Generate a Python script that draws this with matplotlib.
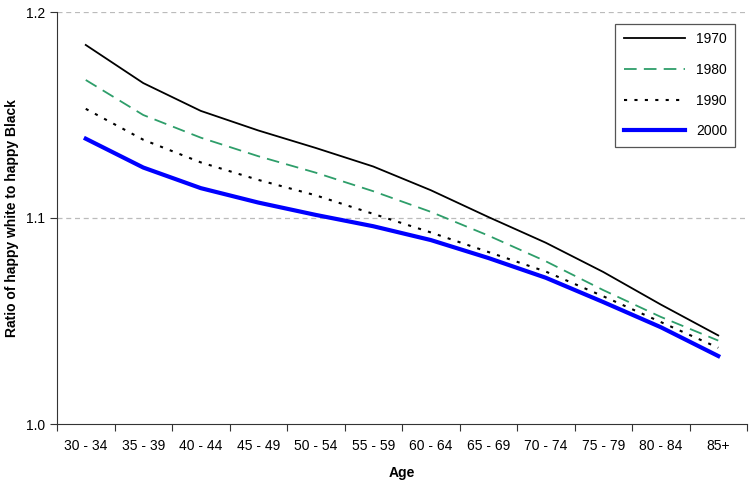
import numpy as np
import matplotlib.pyplot as plt

plt.rcParams['font.family'] = ['Liberation Sans', 'DejaVu Sans']

ages = ['30 - 34', '35 - 39', '40 - 44', '45 - 49', '50 - 54', '55 - 59',
        '60 - 64', '65 - 69', '70 - 74', '75 - 79', '80 - 84', '85+']
r1970 = [1.184, 1.1655, 1.152, 1.1425, 1.134, 1.125, 1.1135, 1.1005, 1.088, 1.0738, 1.058, 1.043]
r1980 = [1.167, 1.150, 1.139, 1.130, 1.122, 1.113, 1.103, 1.0915, 1.079, 1.065, 1.052, 1.0405]
r1990 = [1.153, 1.138, 1.127, 1.1185, 1.111, 1.102, 1.093, 1.0835, 1.074, 1.062, 1.0495, 1.037]
r2000 = [1.1385, 1.1245, 1.1145, 1.1075, 1.1015, 1.096, 1.0893, 1.0806, 1.071, 1.0592, 1.047, 1.033]

fig = plt.figure(figsize=(7.49, 4.82), dpi=100)
ax = fig.add_axes([57 / 749, 1 - 424 / 482, 690 / 749, 412 / 482])

x = np.arange(len(ages))
ax.plot(x, r1970, color='black', lw=1.3, label='1970')
ax.plot(x, r1980, color='#2e9e6a', lw=1.3, dashes=(7, 4), label='1980')
ax.plot(x, r1990, color='black', lw=1.5, dashes=(1.5, 3.5), label='1990')
ax.plot(x, r2000, color='blue', lw=3, label='2000')

ax.set_xlim(-0.5, len(ages) - 0.5)
ax.set_ylim(1.0, 1.2)
ax.set_yticks([1.0, 1.1, 1.2])
ax.set_yticklabels(['1.0', '1.1', '1.2'], fontsize=10)
for yv in [1.1, 1.2]:
    ax.axhline(yv, color='#bbbbbb', lw=0.9, dashes=(4, 3), zorder=0)

ax.set_xticks(np.arange(len(ages) + 1) - 0.5)
ax.set_xticklabels([])
ax.set_xticks(x, minor=True)
ax.set_xticklabels(ages, minor=True, fontsize=10)
ax.tick_params(axis='x', which='minor', length=0, pad=11)
ax.tick_params(axis='x', which='major', length=5, color='#333333')
ax.tick_params(axis='y', length=5, color='#333333')

for s in ['top', 'right']:
    ax.spines[s].set_visible(False)
for s in ['left', 'bottom']:
    ax.spines[s].set_color('#333333')

ax.set_xlabel('Age', fontsize=10, fontweight='bold', labelpad=9)
ax.set_ylabel('Ratio of happy white to happy Black', fontsize=10, fontweight='bold')
ax.yaxis.set_label_coords(-38 / 690, 0.5)

leg = ax.legend(loc='upper right', bbox_to_anchor=(0.983, 0.971), fontsize=10,
                handlelength=4.4, labelspacing=1.2, borderpad=0.6, borderaxespad=0,
                fancybox=False, edgecolor='#555555', framealpha=1)
leg.get_frame().set_linewidth(0.9)

fig.savefig('out.png', dpi=100)
